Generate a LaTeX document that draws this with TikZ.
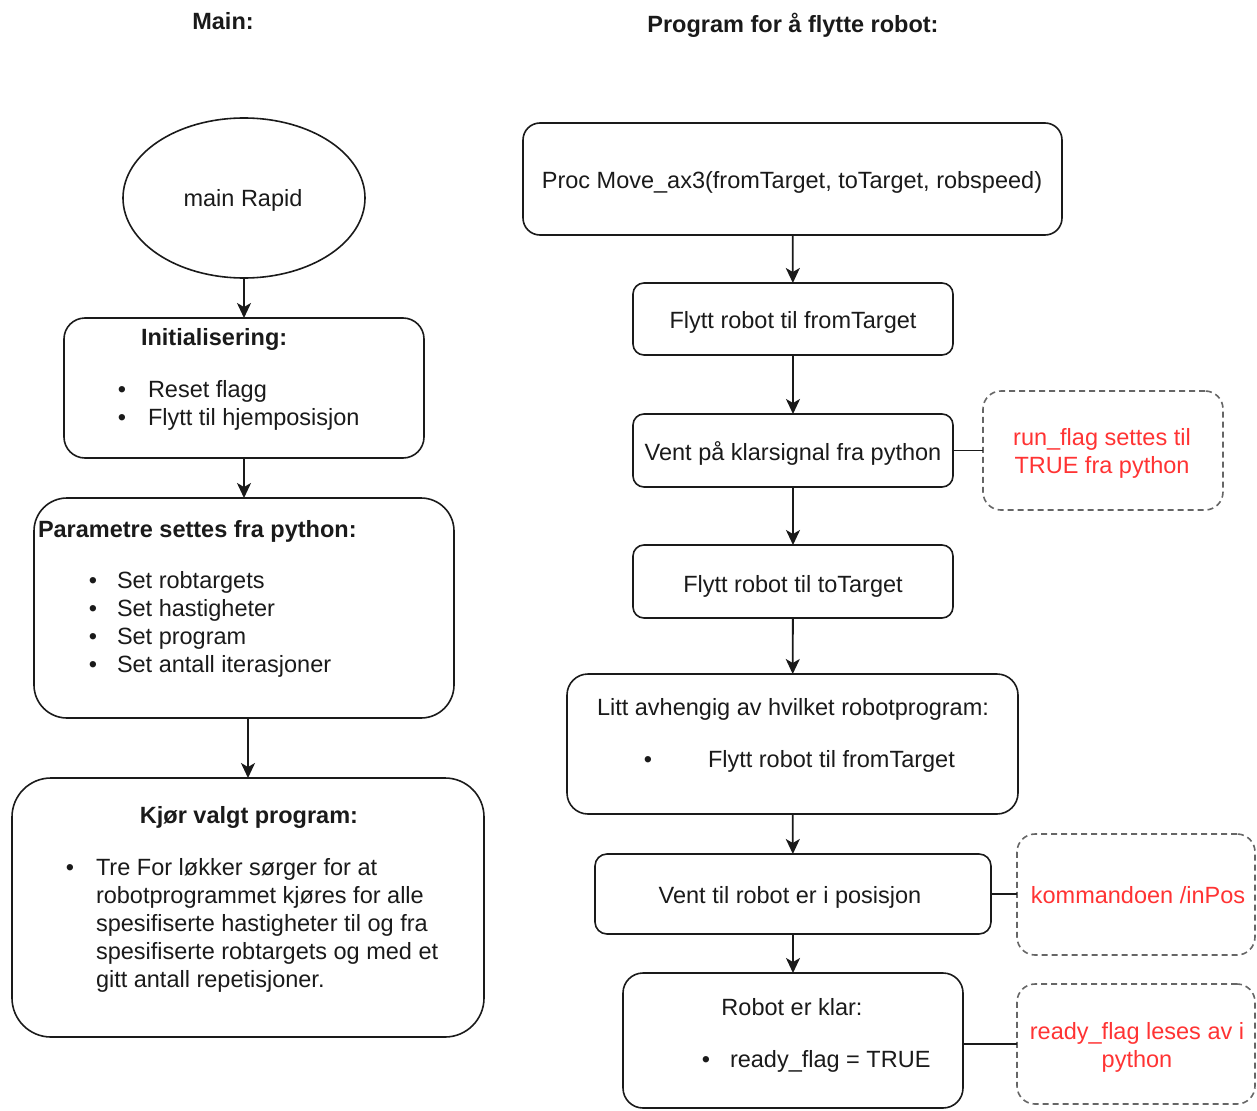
\documentclass[tikz,border=0pt]{standalone}
\usepackage{fontspec}
\setmainfont{Liberation Sans}
\usetikzlibrary{arrows.meta,shapes.geometric}
\definecolor{ink}{HTML}{1A1A1A}
\definecolor{notered}{HTML}{FF3333}
\definecolor{notegray}{HTML}{666666}
\newcommand\diafont{\fontsize{23.5}{28}\selectfont}
\begin{document}
\begin{tikzpicture}[x=1pt,y=-1pt,
  every node/.style={inner sep=0pt, outer sep=0pt, font=\diafont, text=ink},
  stepbox/.style={draw=ink, line width=1.6pt, rectangle},
  startshape/.style={draw=ink, line width=1.6pt, ellipse},
  notebox/.style={draw=notegray, line width=1.6pt, dash pattern=on 6pt off 4pt, rectangle},
  flow/.style={draw=ink, line width=1.8pt, -{Stealth[length=15pt,width=14pt,inset=4pt]}},
  link/.style={draw=ink, line width=1.6pt},
  lbl/.style={anchor=base},
  lblw/.style={anchor=base west},
  head/.style={font=\diafont\bfseries},
  redtxt/.style={anchor=base, text=notered},
]
\useasboundingbox (0,0) rectangle (1257,1110);

% column headings
\node[lbl,head] (hmain) at (223,30) {Main:};
\node[lbl,head] (hprog) at (793,33) {Program for å flytte robot:};

% ---------- main program ----------
\node[startshape, minimum width=242pt, minimum height=160pt] (start) at (244,198) {};
\node[stepbox, rounded corners=21pt, minimum width=360pt, minimum height=140pt] (init) at (244,388) {};
\node[stepbox, rounded corners=33pt, minimum width=420pt, minimum height=220pt] (param) at (244,608) {};
\node[stepbox, rounded corners=39pt, minimum width=472pt, minimum height=259pt] (run) at (248,907.5) {};

\node[lbl] (tstart) at (243,207) {main Rapid};

\node[lblw,head] (tinit) at (141,345) {Initialisering:};
\node[lbl] (bi1) at (122,397) {•};
\node[lblw] (ti1) at (148,397) {Reset flagg};
\node[lbl] (bi2) at (122,425) {•};
\node[lblw] (ti2) at (148,425) {Flytt til hjemposisjon};

\node[lblw,head] (tparam) at (38,537) {Parametre settes fra python:};
\node[lbl] (bp1) at (93,588) {•};
\node[lblw] (tp1) at (117,588) {Set robtargets};
\node[lbl] (bp2) at (93,616) {•};
\node[lblw] (tp2) at (117,616) {Set hastigheter};
\node[lbl] (bp3) at (93,644) {•};
\node[lblw] (tp3) at (117,644) {Set program};
\node[lbl] (bp4) at (93,672) {•};
\node[lblw] (tp4) at (117,672) {Set antall iterasjoner};

\node[lbl,head] (trun) at (249,823) {Kjør valgt program:};
\node[lbl] (br1) at (70,875) {•};
\node[lblw] (tr1) at (96,875) {Tre For løkker sørger for at};
\node[lblw] (tr2) at (96,903) {robotprogrammet kjøres for alle};
\node[lblw] (tr3) at (96,931) {spesifiserte hastigheter til og fra};
\node[lblw] (tr4) at (96,959) {spesifiserte robtargets og med et};
\node[lblw] (tr5) at (96,987) {gitt antall repetisjoner.};

\draw[flow] (start) -- (init);
\draw[flow] (init) -- (param);
\draw[flow] (run.north |- param.south) -- (run.north);

% ---------- move procedure ----------
\node[stepbox, rounded corners=17pt, minimum width=539pt, minimum height=112pt] (proc) at (792.5,179) {};
\node[stepbox, rounded corners=11pt, minimum width=320pt, minimum height=72pt] (mvfrom) at (793,319) {};
\node[stepbox, rounded corners=11pt, minimum width=320pt, minimum height=73pt] (wait) at (793,450.5) {};
\node[stepbox, rounded corners=11pt, minimum width=320pt, minimum height=73pt] (mvto) at (793,581.5) {};
\node[stepbox, rounded corners=21pt, minimum width=451pt, minimum height=140pt] (depend) at (792.5,744) {};
\node[stepbox, rounded corners=12pt, minimum width=396pt, minimum height=80pt] (inpos) at (793,894) {};
\node[stepbox, rounded corners=20pt, minimum width=340pt, minimum height=135pt] (ready) at (793,1040.5) {};

\node[lbl] (tproc) at (792,189) {Proc Move\_ax3(fromTarget, toTarget, robspeed)};
\node[lbl] (tmvfrom) at (793,328) {Flytt robot til fromTarget};
\node[lbl] (twait) at (793,460) {Vent på klarsignal fra python};
\node[lbl] (tmvto) at (793,592) {Flytt robot til toTarget};
\node[lbl] (tdep) at (793,715) {Litt avhengig av hvilket robotprogram:};
\node[lbl] (bd1) at (648,767) {•};
\node[lblw] (td1) at (708,767) {Flytt robot til fromTarget};
\node[lbl] (tinpos) at (790,903) {Vent til robot er i posisjon};
\node[lbl] (tready) at (792,1015) {Robot er klar:};
\node[lbl] (bk1) at (706,1067) {•};
\node[lblw] (tk1) at (730,1067) {ready\_flag = TRUE};

\draw[flow] (proc) -- (mvfrom);
\draw[flow] (mvfrom) -- (wait);
\draw[flow] (wait) -- (mvto);
\draw[flow] (mvto) -- (depend);
\draw[flow] (depend) -- (inpos);
\draw[flow] (inpos) -- (ready);

% ---------- notes ----------
\node[notebox, rounded corners=18pt, minimum width=240pt, minimum height=119pt] (note1) at (1103,450.5) {};
\node[notebox, rounded corners=18pt, minimum width=238pt, minimum height=121pt] (note2) at (1136,894.5) {};
\node[notebox, rounded corners=18pt, minimum width=238pt, minimum height=120pt] (note3) at (1136,1044) {};

\node[redtxt] (tn1a) at (1102,445) {run\_flag settes til};
\node[redtxt] (tn1b) at (1102,473) {TRUE fra python};
\node[redtxt] (tn2) at (1138,903) {kommandoen /inPos};
\node[redtxt] (tn3a) at (1137,1039) {ready\_flag leses av i};
\node[redtxt] (tn3b) at (1137,1067) {python};

\draw[link] (wait.east) -- (wait.east -| note1.west);
\draw[link] (inpos.east) -- (inpos.east -| note2.west);
\draw[link] (ready.east |- note3.west) -- (note3.west);
\end{tikzpicture}
\end{document}
